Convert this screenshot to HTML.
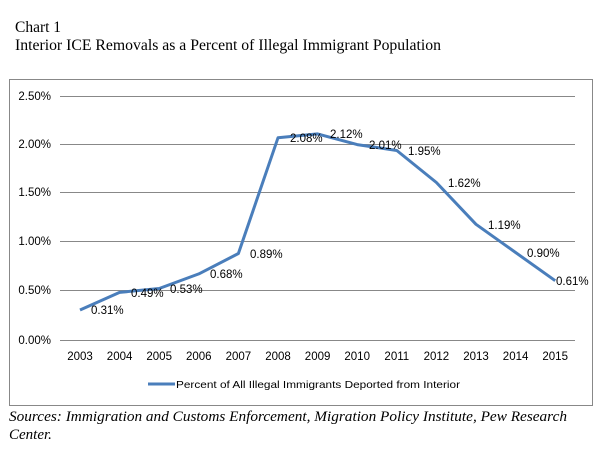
<!DOCTYPE html>
<html><head><style>
body{margin:0;background:#fff;width:610px;height:450px;overflow:hidden;}
</style></head><body>
<svg width="610" height="450" xmlns="http://www.w3.org/2000/svg">
<text x="15" y="32" font-family="Liberation Serif, serif" font-size="15.5" fill="#000">Chart 1</text>
<text x="15" y="50" font-family="Liberation Serif, serif" font-size="15.5" fill="#000" textLength="426" lengthAdjust="spacingAndGlyphs">Interior ICE Removals as a Percent of Illegal Immigrant Population</text>
<rect x="9.5" y="79.5" width="583" height="326" fill="#fff" stroke="#888" stroke-width="1"/>
<g stroke="#888" stroke-width="1">
<line x1="60" y1="96.5" x2="575" y2="96.5"/>
<line x1="60" y1="144.5" x2="575" y2="144.5"/>
<line x1="60" y1="192.5" x2="575" y2="192.5"/>
<line x1="60" y1="241.5" x2="575" y2="241.5"/>
<line x1="60" y1="290.5" x2="575" y2="290.5"/>
<line x1="60" y1="340.5" x2="575" y2="340.5"/>
</g>
<g font-family="Liberation Sans, sans-serif" font-size="11.5" fill="#000" text-anchor="end">
<text x="51" y="100">2.50%</text>
<text x="51" y="148">2.00%</text>
<text x="51" y="196">1.50%</text>
<text x="51" y="245">1.00%</text>
<text x="51" y="294">0.50%</text>
<text x="51" y="344">0.00%</text>
</g>
<g font-family="Liberation Sans, sans-serif" font-size="11.5" fill="#000" text-anchor="middle">
<text x="80" y="360">2003</text><text x="119.6" y="360">2004</text><text x="159.2" y="360">2005</text>
<text x="198.8" y="360">2006</text><text x="238.4" y="360">2007</text><text x="278" y="360">2008</text>
<text x="317.6" y="360">2009</text><text x="357.2" y="360">2010</text><text x="396.8" y="360">2011</text>
<text x="436.4" y="360">2012</text><text x="476" y="360">2013</text><text x="515.6" y="360">2014</text>
<text x="555.2" y="360">2015</text>
</g>
<polyline fill="none" stroke="#4a7ebb" stroke-width="3" stroke-linejoin="round" points="80,310 119.6,292.4 159.2,288.5 198.8,273.9 238.4,253.5 278,137.8 317.6,133.9 357.2,144.6 396.8,150.5 436.4,182.5 476,224.3 515.6,252.5 555.2,280.7"/>
<g font-family="Liberation Sans, sans-serif" font-size="11.5" fill="#000">
<text x="91" y="314">0.31%</text>
<text x="131" y="297">0.49%</text>
<text x="170" y="293">0.53%</text>
<text x="210" y="278">0.68%</text>
<text x="250" y="258">0.89%</text>
<text x="290" y="142">2.08%</text>
<text x="330" y="138">2.12%</text>
<text x="369" y="149">2.01%</text>
<text x="408" y="155">1.95%</text>
<text x="448" y="187">1.62%</text>
<text x="488" y="229">1.19%</text>
<text x="527" y="257">0.90%</text>
<text x="556" y="285">0.61%</text>
</g>
<line x1="148" y1="384" x2="175" y2="384" stroke="#4a7ebb" stroke-width="3"/>
<text x="176" y="388" font-family="Liberation Sans, sans-serif" font-size="10.5" fill="#000" textLength="284" lengthAdjust="spacingAndGlyphs">Percent of All Illegal Immigrants Deported from Interior</text>
<text x="9" y="421" font-family="Liberation Serif, serif" font-size="15" font-style="italic" fill="#000" textLength="558" lengthAdjust="spacingAndGlyphs">Sources: Immigration and Customs Enforcement, Migration Policy Institute, Pew Research</text>
<text x="9" y="439" font-family="Liberation Serif, serif" font-size="15" font-style="italic" fill="#000">Center.</text>
</svg>
</body></html>
